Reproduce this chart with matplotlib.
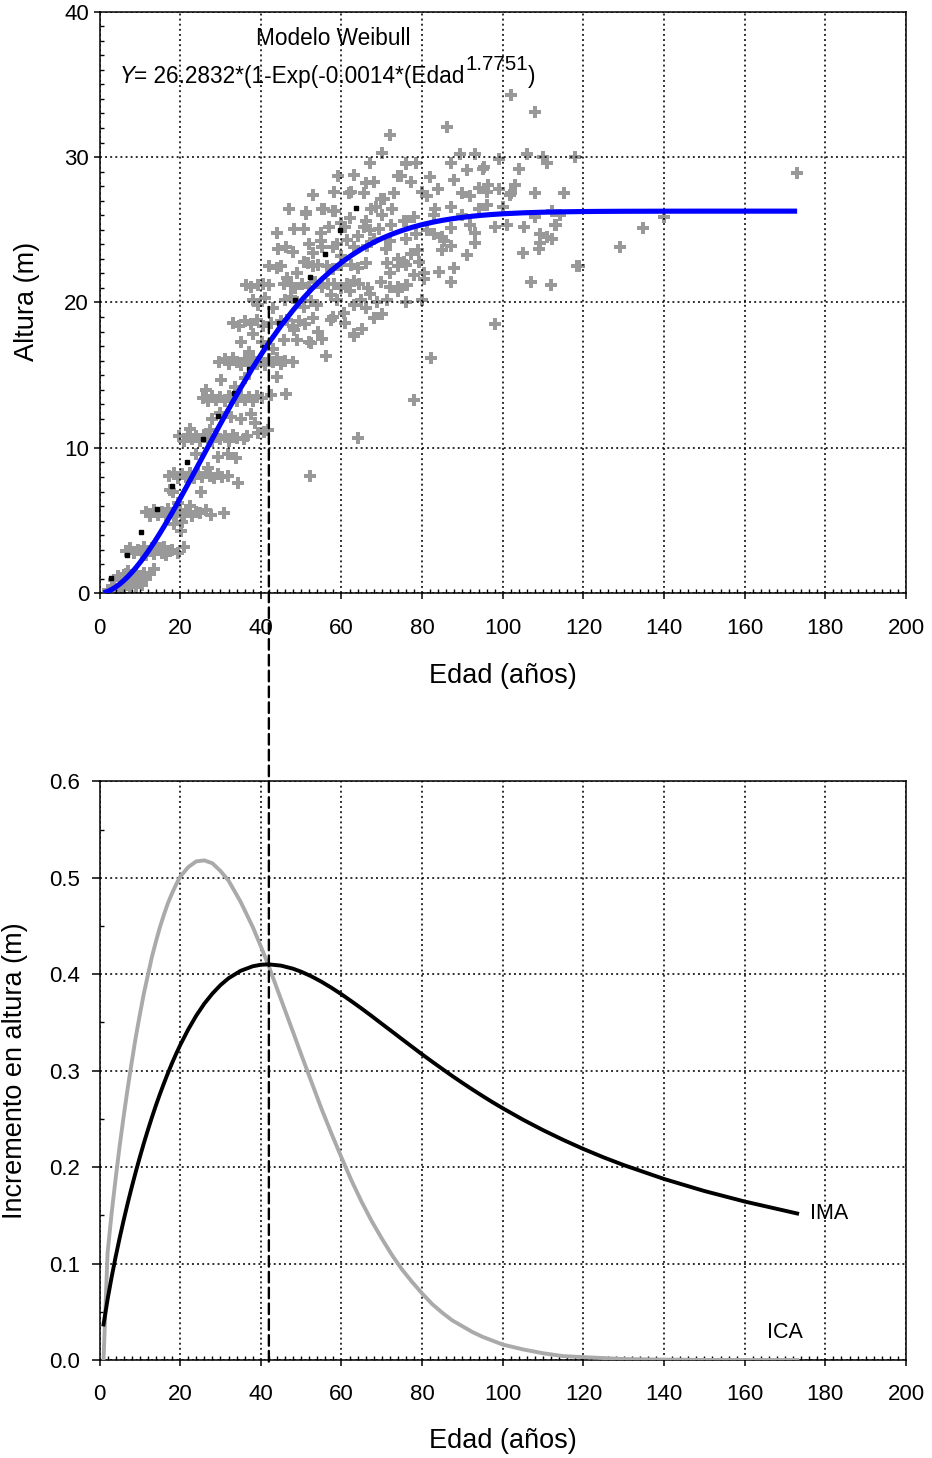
import matplotlib
matplotlib.use('Agg')
import matplotlib.pyplot as plt
from matplotlib.patches import ConnectionPatch
from matplotlib.ticker import MultipleLocator, FormatStrFormatter

plt.rcParams['font.family'] = ['Liberation Sans', 'DejaVu Sans']

# ---------------- data ----------------
# observed (edad, altura) pairs, grouped by height band
obs_banda_0 = [(2.0, 0.2), (3.0, 0.5), (3.5, 0.9), (4.0, 0.3), (4.5, 1.2), (5.0, 0.6), (5.5, 1.0),
               (6.0, 0.3), (6.5, 1.3), (7.0, 0.8), (7.5, 0.4), (8.0, 1.1), (8.5, 0.7), (9.0, 1.4),
               (9.5, 0.9), (10.0, 1.2), (10.5, 0.6), (11.0, 1.4), (11.5, 1.0), (12.5, 1.3), (13.6, 1.7),
               (5.0, 0.0), (7.0, 1.5), (9.0, 0.4)]
obs_banda_1 = [(6.5, 2.9), (7.5, 3.1), (8.5, 2.8), (9.5, 3.0), (10.5, 2.7), (11.0, 3.2), (12.0, 2.9),
               (13.0, 3.1), (13.5, 2.7), (14.5, 3.0), (15.5, 2.8), (16.0, 3.2), (17.0, 2.9), (18.0, 3.0),
               (19.5, 2.8), (21.0, 3.2), (14.0, 3.4), (11.5, 2.6), (20.2, 4.3), (16.5, 2.6)]
obs_banda_2 = [(11.5, 5.6), (12.5, 5.3), (13.5, 5.7), (14.5, 5.4), (15.5, 5.6), (16.5, 5.3), (17.0, 5.8),
               (18.0, 5.5), (19.0, 5.3), (20.0, 5.7), (21.0, 5.4), (22.0, 5.6), (23.0, 5.3), (24.0, 5.6),
               (25.0, 5.5), (26.5, 5.7), (27.6, 5.4), (30.9, 5.5), (19.5, 6.2), (22.5, 6.0), (18.5, 4.8),
               (20.5, 4.9)]
obs_banda_3 = [(17.3, 8.1), (18.5, 8.3), (19.5, 7.9), (20.5, 8.2), (21.5, 8.0), (22.5, 8.3), (23.5, 7.9),
               (24.5, 8.2), (25.5, 8.0), (26.5, 8.3), (27.5, 8.1), (28.5, 7.9), (29.5, 8.2), (30.5, 8.0),
               (31.8, 8.1), (18.2, 7.0), (25.2, 7.0), (17.6, 7.1), (29.3, 9.4), (31.8, 9.6), (33.8, 9.3),
               (34.3, 7.6), (27.0, 8.6), (24.0, 9.6)]
obs_banda_4 = [(19.7, 10.8), (21.0, 10.5), (22.0, 10.9), (23.0, 10.6), (24.0, 10.8), (25.0, 10.5),
               (26.0, 10.9), (27.0, 10.7), (28.0, 10.5), (29.0, 10.9), (30.0, 10.6), (31.0, 10.8),
               (32.0, 10.5), (33.0, 10.9), (34.0, 10.7), (35.9, 10.6), (36.7, 10.8), (39.2, 11.0),
               (40.8, 11.1), (41.7, 11.2), (22.5, 11.3), (27.5, 11.2),
               (32.6, 12.15), (35.0, 12.0), (37.5, 12.3), (30.0, 12.4), (38.5, 11.7), (28.0, 12.0)]
obs_banda_5 = [(25.6, 13.4), (27.0, 13.2), (28.0, 13.6), (29.0, 13.3), (30.0, 13.5), (31.0, 13.2),
               (32.0, 13.6), (33.0, 13.4), (34.0, 13.2), (35.0, 13.6), (36.0, 13.3), (37.0, 13.5),
               (38.0, 13.2), (39.0, 13.6), (40.4, 13.4), (42.5, 13.65), (46.2, 13.7),
               (30.1, 14.7), (26.5, 14.0), (33.5, 14.2), (36.0, 14.8), (44.0, 14.9)]
obs_banda_6 = [(29.6, 15.9), (31.0, 16.1), (32.0, 15.8), (33.0, 16.2), (34.0, 15.9), (35.0, 15.7),
               (36.0, 16.1), (37.0, 15.9), (38.0, 16.2), (39.0, 15.8), (40.0, 16.0), (41.0, 15.7),
               (42.0, 16.1), (43.0, 15.9), (44.0, 16.2), (45.0, 15.8), (46.0, 16.0), (47.9, 15.9),
               (35.1, 17.3), (40.4, 17.3), (37.0, 16.6), (43.0, 16.8), (38.0, 17.8)]
obs_banda_7 = [(33.0, 18.6), (34.5, 18.4), (36.0, 18.7), (37.5, 18.5), (39.0, 18.8), (40.5, 18.4),
               (42.5, 18.6), (45.0, 18.7), (46.6, 18.8), (48.0, 18.4), (49.5, 18.7), (51.0, 18.5),
               (53.0, 18.9), (57.4, 18.8), (60.6, 19.3), (68.1, 18.9), (54.1, 18.0), (48.3, 18.1),
               (63.1, 17.8), (45.8, 17.4), (49.1, 17.4), (52.0, 17.3), (55.3, 17.5), (56.1, 16.3),
               (63.1, 17.7), (52.4, 17.2), (58.0, 19.0), (61.0, 18.6), (65.0, 18.2), (70.0, 19.2)]
obs_banda_8 = [(39.2, 19.8), (47.5, 20.4), (49.1, 20.0), (50.7, 19.7), (52.4, 20.1), (54.0, 19.8),
               (57.4, 20.5), (59.0, 20.2), (63.1, 19.8), (64.8, 20.2), (68.9, 20.0), (71.4, 20.2),
               (80.0, 20.2), (66.0, 19.6), (46.0, 20.2), (43.0, 19.6), (41.0, 20.3), (38.0, 20.2),
               (62.0, 20.8), (67.0, 20.6), (74.0, 20.8), (76.0, 20.0)]
obs_banda_9 = [(36.3, 21.2), (37.6, 21.1), (39.2, 21.2), (40.5, 21.3), (42.1, 21.2), (45.7, 21.3),
               (46.6, 21.7), (47.5, 21.2), (48.5, 21.0), (50.3, 21.3), (52.0, 21.1), (53.5, 21.4),
               (55.3, 21.1), (56.6, 21.3), (58.2, 21.3), (60.0, 21.0), (61.5, 21.3), (63.0, 21.5),
               (64.4, 21.3), (66.5, 21.0), (69.7, 21.4), (72.0, 21.1), (73.9, 21.1), (76.3, 21.2),
               (75.9, 21.2), (80.4, 21.6), (87.1, 21.4), (72.0, 22.0), (78.0, 21.9), (49.0, 22.0)]
obs_banda_10 = [(42.1, 22.5), (44.0, 22.4), (45.0, 22.5), (50.7, 22.8), (51.6, 22.7), (53.0, 22.5),
                (54.1, 22.6), (56.5, 22.5), (58.0, 22.3), (60.0, 22.6), (62.3, 22.6), (64.0, 22.4),
                (66.0, 22.7), (71.4, 22.7), (73.9, 22.5), (75.5, 22.8), (75.9, 22.6), (79.2, 22.8),
                (80.4, 22.0), (84.2, 22.1), (87.9, 22.4), (53.0, 23.4), (60.0, 23.2), (74.0, 23.0)]
obs_banda_11 = [(44.2, 23.7), (46.2, 23.8), (48.0, 23.5), (54.9, 24.2), (55.3, 23.8), (57.8, 23.8),
                (59.0, 24.0), (61.5, 24.3), (63.1, 23.8), (66.4, 23.9), (71.0, 23.7), (77.2, 23.35),
                (78.4, 24.7), (82.9, 24.7), (85.0, 24.5), (85.4, 24.2), (87.1, 23.9), (85.0, 23.6),
                (91.2, 23.3), (93.2, 24.8), (93.2, 24.1), (52.0, 24.0), (64.0, 24.6), (68.0, 24.4),
                (72.0, 24.2), (76.0, 24.4), (79.0, 23.6), (44.0, 24.8), (55.0, 24.8)]
obs_banda_12 = [(48.3, 25.05), (50.7, 25.05), (59.8, 25.5), (61.0, 25.2), (65.6, 25.2), (67.0, 25.0),
                (69.3, 25.05), (72.2, 25.35), (75.9, 25.6), (75.5, 25.6), (78.0, 25.9), (81.3, 25.0),
                (82.9, 26.0), (87.1, 25.1), (92.0, 25.35), (101.1, 25.3), (105.2, 25.2), (108.1, 25.9),
                (113.0, 25.3), (113.3, 25.3), (114.3, 26.0), (57.0, 25.2), (62.0, 25.8), (66.0, 25.6),
                (90.0, 26.0), (98.0, 25.2)]
obs_banda_13 = [(51.2, 26.1), (51.2, 26.2), (55.3, 26.4), (55.7, 26.4), (57.8, 26.3), (58.5, 26.3),
                (67.3, 26.4), (68.5, 26.6), (72.6, 26.4), (83.3, 26.4), (87.1, 26.6), (94.1, 26.4),
                (96.1, 26.7), (112.2, 26.3), (47.0, 26.4), (70.0, 26.0), (100.0, 26.6)]
obs_banda_14 = [(58.2, 27.6), (61.9, 27.5), (62.3, 27.6), (65.6, 27.5), (69.7, 27.1), (70.5, 27.1),
                (73.0, 27.5), (80.0, 27.6), (81.3, 27.3), (89.9, 27.5), (92.0, 27.3), (96.1, 27.6),
                (99.0, 27.8), (101.9, 27.4), (102.1, 27.5), (108.1, 27.5), (115.1, 27.5), (53.0, 27.4),
                (84.0, 27.8), (94.0, 27.9)]
obs_banda_15 = [(59.2, 28.7), (66.0, 28.2), (68.1, 28.3), (73.9, 28.7), (74.7, 28.7), (77.2, 28.3),
                (88.0, 28.4), (96.3, 28.1), (103.1, 28.1), (91.2, 29.1), (95.1, 29.2), (95.3, 29.3),
                (63.0, 28.8), (82.0, 28.6), (104.0, 29.2)]
obs_banda_16 = [(70.1, 30.3), (75.9, 29.6), (75.9, 29.5), (78.4, 29.6), (87.1, 29.6), (89.5, 30.2),
                (93.2, 30.2), (99.0, 29.9), (106.0, 30.2), (110.1, 30.0), (111.0, 29.6), (118.0, 30.0),
                (72.0, 31.5), (86.1, 32.1), (108.1, 33.1), (102.1, 34.3), (173.0, 28.9), (67.0, 29.6)]
obs_dispersos = [(98.2, 18.5), (82.1, 16.2), (78.0, 13.3), (64.1, 10.7), (52.1, 8.1), (105.0, 23.4),
                 (107.0, 21.4), (112.0, 21.2), (109.3, 24.7), (111.0, 24.5), (109.3, 24.1), (112.2, 24.4),
                 (108.9, 23.7), (118.4, 22.5), (119.0, 22.5), (129.1, 23.8), (134.9, 25.1), (139.9, 25.9)]

# small black markers
negros_edad = [2.9, 6.7, 10.4, 14.3, 18.0, 21.8, 25.6, 29.4, 33.3, 37.0, 40.7, 44.6, 48.4, 52.1,
               55.9, 59.7, 63.5]
negros_altura = [1.03, 2.64, 4.24, 5.8, 7.4, 9.0, 10.6, 12.2, 13.8, 15.4, 16.97, 18.6, 20.2, 21.75,
                 23.35, 24.96, 26.5]

# fitted curve (Weibull) and increments, read at these ages
edad_curva = [1, 2, 3, 4, 5, 6, 7, 8, 9, 10, 11, 12, 13, 14, 15, 16, 17, 18, 19, 20,
              22, 24, 26, 28, 30, 32, 35, 38, 40, 42, 45, 48, 50,
              52.5, 55, 57.5, 60, 62.5, 65, 67.5, 70, 72.5, 75, 77.5, 80, 82.5, 85, 87.5, 90,
              92.5, 95, 97.5, 100, 105, 110, 115, 120, 125, 130, 140, 150, 160, 173]
altura_modelo = [0.037, 0.126, 0.257, 0.428, 0.633, 0.871, 1.139, 1.435, 1.757, 2.103, 2.472, 2.862,
                 3.271, 3.697, 4.139, 4.594, 5.062, 5.542, 6.031, 6.528,
                 7.540, 8.570, 9.607, 10.638, 11.661, 12.665, 14.124, 15.512, 16.390, 17.227,
                 18.400, 19.472, 20.130,
                 20.888, 21.576, 22.195, 22.750, 23.245, 23.683, 24.068, 24.405, 24.698, 24.951,
                 25.169, 25.356, 25.514, 25.649, 25.762, 25.857, 25.936, 26.002, 26.056, 26.101,
                 26.167, 26.210, 26.238, 26.256, 26.267, 26.274, 26.280, 26.283, 26.283, 26.283]
ima = [0.0368, 0.0628, 0.0858, 0.1069, 0.1266, 0.1451, 0.1627, 0.1793, 0.1952, 0.2103, 0.2248,
       0.2385, 0.2516, 0.2641, 0.2759, 0.2871, 0.2978, 0.3079, 0.3174, 0.3264,
       0.3427, 0.3571, 0.3695, 0.3799, 0.3887, 0.3958, 0.4035, 0.4082, 0.4098, 0.4102, 0.4089,
       0.4057, 0.4026,
       0.3979, 0.3923, 0.3860, 0.3792, 0.3719, 0.3644, 0.3566, 0.3486, 0.3407, 0.3327, 0.3248,
       0.3169, 0.3093, 0.3018, 0.2944, 0.2873, 0.2804, 0.2737, 0.2672, 0.2610,
       0.2492, 0.2383, 0.2282, 0.2188, 0.2101, 0.2021, 0.1877, 0.1752, 0.1643, 0.1519]
ica = [0.0, 0.111, 0.152, 0.188, 0.222, 0.253, 0.282, 0.309, 0.335, 0.358, 0.380, 0.399, 0.418,
       0.434, 0.449, 0.462, 0.474, 0.484, 0.493, 0.501,
       0.511, 0.517, 0.518, 0.515, 0.507, 0.497, 0.475, 0.449, 0.429, 0.408, 0.374, 0.340, 0.317,
       0.289, 0.261, 0.235, 0.210, 0.186, 0.164, 0.144, 0.126, 0.109, 0.094, 0.081, 0.069, 0.058,
       0.049, 0.041, 0.035, 0.029, 0.024, 0.020, 0.016,
       0.011, 0.007, 0.004, 0.003, 0.002, 0.001, 0.0004, 0.0001, 0.0, 0.0]

edad_turno = 42      # age of maximum IMA (dashed line)
altura_turno = 19.7  # top end of dashed line

bandas = [obs_banda_0, obs_banda_1, obs_banda_2, obs_banda_3, obs_banda_4, obs_banda_5, obs_banda_6,
          obs_banda_7, obs_banda_8, obs_banda_9, obs_banda_10, obs_banda_11, obs_banda_12,
          obs_banda_13, obs_banda_14, obs_banda_15, obs_banda_16, obs_dispersos]
obs_edad = [p[0] for b in bandas for p in b]
obs_altura = [p[1] for b in bandas for p in b]

# ---------------- figure ----------------
W, H = 932, 1458
fig = plt.figure(figsize=(W / 100, H / 100), dpi=100)
left = 99.5 / W
width = (906 - 99.5) / W
ax1 = fig.add_axes([left, 1 - 593.3 / H, width, (593.3 - 11.7) / H])
ax2 = fig.add_axes([left, 1 - 1360 / H, width, (1360 - 781.3) / H])

grid_kw = dict(color='black', linestyle=(0, (1.2, 2.0)), linewidth=1.15)
FS_TICK = 16
FS_LAB = 19.5

for ax in (ax1, ax2):
    ax.set_xlim(0, 200)
    ax.xaxis.set_major_locator(MultipleLocator(20))
    ax.xaxis.set_minor_locator(MultipleLocator(2))
    ax.grid(True, which='major', **grid_kw)
    for s in ax.spines.values():
        s.set_linewidth(1.1)
    ax.tick_params(which='major', direction='out', width=1.1, labelsize=FS_TICK,
                   top=False, right=False)
    ax.tick_params(which='minor', direction='in', width=1.0, length=3,
                   top=False, right=False)
    ax.tick_params(axis='x', which='major', length=4.5, pad=13)

# top panel
ax1.set_ylim(0, 40)
ax1.yaxis.set_major_locator(MultipleLocator(10))
ax1.yaxis.set_minor_locator(MultipleLocator(1))
ax1.tick_params(axis='y', which='major', length=4, pad=3.5)

ax1.plot(obs_edad, obs_altura, linestyle='none', marker='P', markersize=8.8,
         markerfacecolor='#999999', markeredgewidth=0, zorder=1)
ax1.plot(negros_edad, negros_altura, linestyle='none', marker='s', markersize=2.6,
         color='black', zorder=1.8)
ax1.plot(edad_curva, altura_modelo, color='#0000ff', linewidth=3.7, zorder=3,
         solid_capstyle='butt')

ax1.text(38.9, 37.74, "Modelo Weibull", fontsize=16.3, ha='left', va='baseline', zorder=1.2)
tY = ax1.text(4.9, 35.1, "Y", fontsize=16.3, fontstyle='italic', ha='left', va='baseline',
              zorder=1.2)
t1 = ax1.annotate("= 26.2832*(1-Exp(-0.0014*(Edad", xy=(1, 0), xycoords=tY, ha='left',
                  va='bottom', fontsize=16.3, zorder=1.2)
tsup = ax1.annotate("1.7751", xy=(1, 0), xycoords=t1, xytext=(0.5, 10),
                    textcoords='offset points', ha='left', va='bottom', fontsize=14.8,
                    zorder=1.2)
ax1.annotate(")", xy=(1, 0), xycoords=(tsup, t1), ha='left', va='bottom', fontsize=16.3,
             zorder=1.2)

ax1.set_xlabel("Edad (años)", fontsize=FS_LAB, va='center')
ax1.xaxis.set_label_coords(0.5, -(676 - 593.3) / 581.6)
ax1.set_ylabel("Altura (m)", fontsize=FS_LAB, va='center')
ax1.yaxis.set_label_coords(-(99.5 - 27) / 806.5, 0.502)

# bottom panel
ax2.set_ylim(0, 0.6)
ax2.yaxis.set_major_locator(MultipleLocator(0.1))
ax2.yaxis.set_minor_locator(MultipleLocator(0.05))
ax2.yaxis.set_major_formatter(FormatStrFormatter('%.1f'))
ax2.tick_params(axis='y', which='major', length=6, pad=8)

ax2.plot(edad_curva, ica, color='#aaaaaa', linewidth=2.8, zorder=3)
ax2.plot(edad_curva, ima, color='black', linewidth=2.8, zorder=3.1)
ax2.text(176.3, 0.152, "IMA", fontsize=15.5, ha='left', va='center')
ax2.text(165.6, 0.029, "ICA", fontsize=15.5, ha='left', va='center')

ax2.set_xlabel("Edad (años)", fontsize=FS_LAB, va='center')
ax2.xaxis.set_label_coords(0.5, -(1441 - 1360) / 578.7)
ax2.set_ylabel("Incremento en altura (m)", fontsize=FS_LAB, va='center')
ax2.yaxis.set_label_coords(-(99.5 - 15) / 806.5, 0.50)

# dashed line joining both panels at the age of maximum IMA
con = ConnectionPatch(xyA=(edad_turno, altura_turno), coordsA=ax1.transData,
                      xyB=(edad_turno, -0.006), coordsB=ax2.transData,
                      color='black', linewidth=1.7, linestyle=(0, (4.5, 2.2)), zorder=6)
fig.add_artist(con)

fig.savefig('out.png', dpi=100)
